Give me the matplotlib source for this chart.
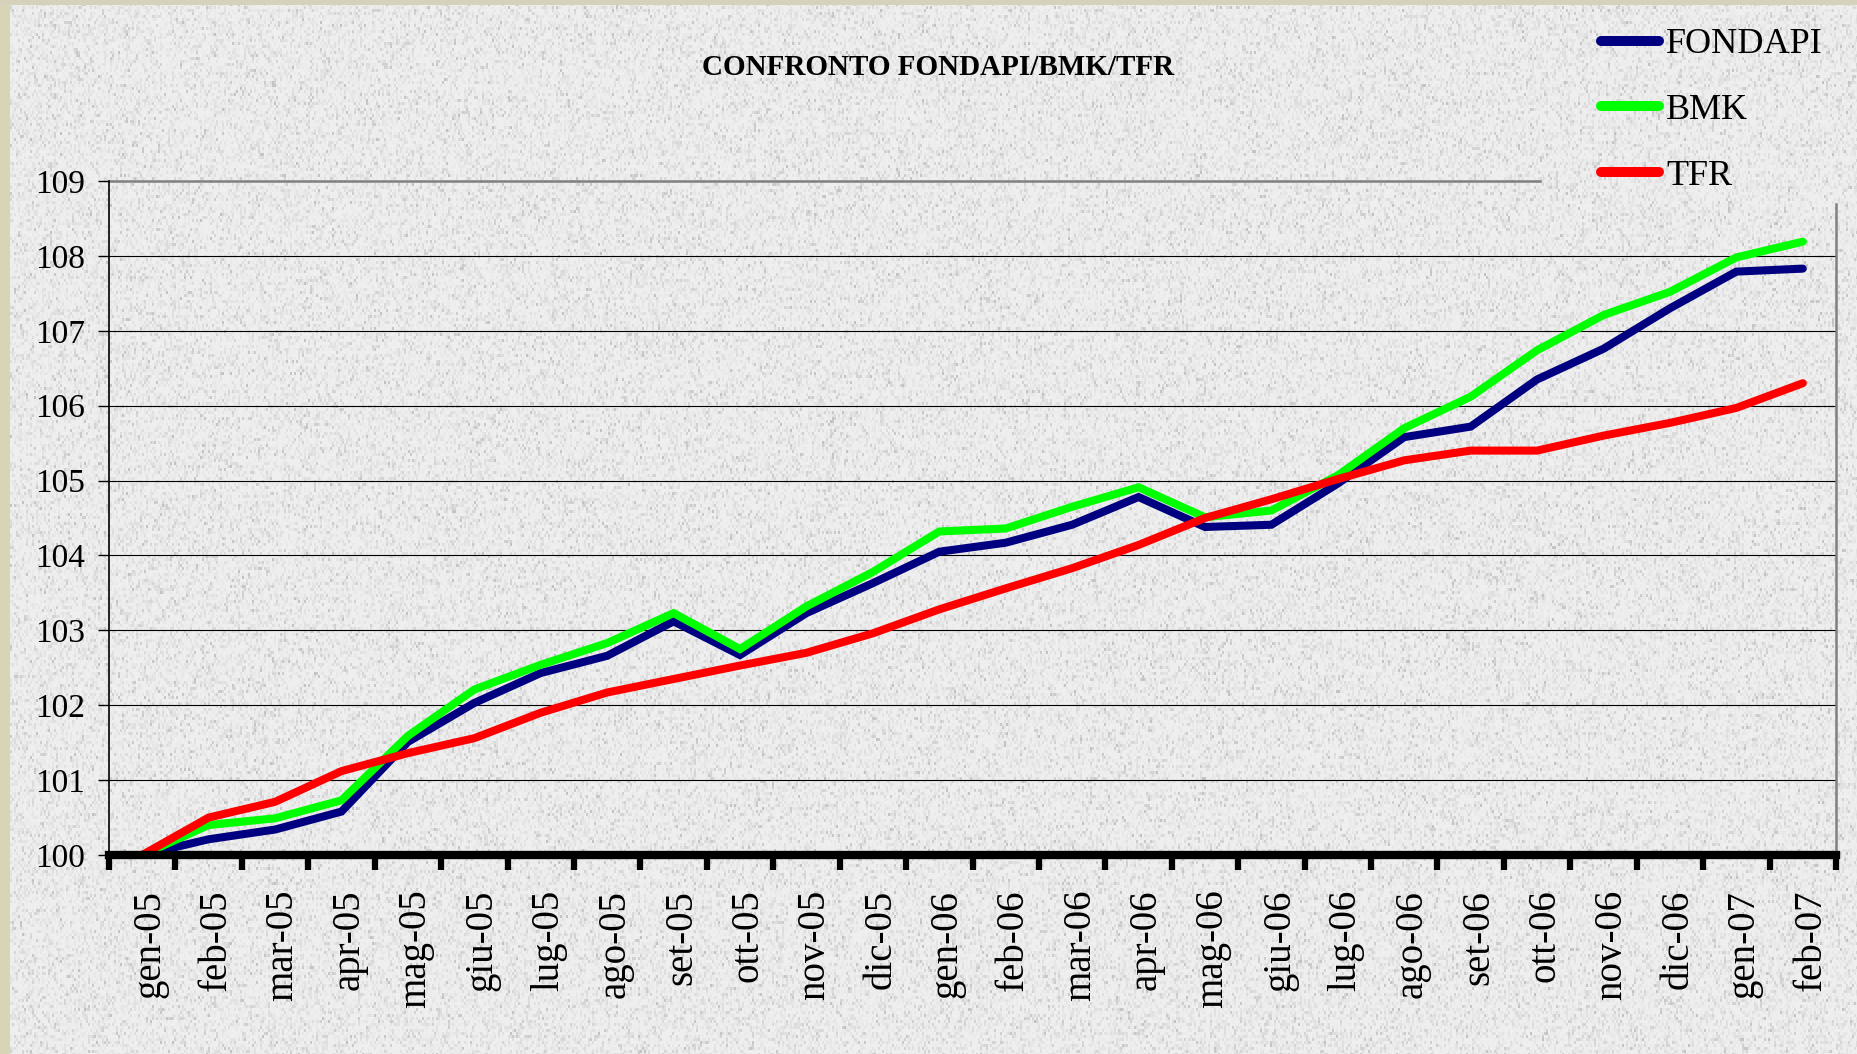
import matplotlib
matplotlib.use("Agg")
import matplotlib.pyplot as plt
import matplotlib.transforms as mtransforms
from matplotlib.lines import Line2D
from matplotlib.patches import Rectangle
import numpy as np

# Data (index values, base 100 = gen-05)
months = ["gen-05", "feb-05", "mar-05", "apr-05", "mag-05", "giu-05", "lug-05",
          "ago-05", "set-05", "ott-05", "nov-05", "dic-05", "gen-06", "feb-06",
          "mar-06", "apr-06", "mag-06", "giu-06", "lug-06", "ago-06", "set-06",
          "ott-06", "nov-06", "dic-06", "gen-07", "feb-07"]
fondapi = [100.00, 100.21, 100.34, 100.58, 101.51, 102.03, 102.43, 102.66, 103.12,
           102.67, 103.23, 103.63, 104.05, 104.17, 104.41, 104.78, 104.38, 104.41,
           104.96, 105.58, 105.72, 106.35, 106.76, 107.30, 107.79, 107.83]
bmk = [100.00, 100.40, 100.49, 100.73, 101.59, 102.21, 102.54, 102.83, 103.23,
       102.75, 103.32, 103.78, 104.32, 104.36, 104.65, 104.91, 104.51, 104.60,
       105.07, 105.70, 106.12, 106.74, 107.21, 107.52, 107.98, 108.19]
tfr = [100.00, 100.50, 100.71, 101.12, 101.36, 101.56, 101.90, 102.17, 102.35,
       102.53, 102.70, 102.96, 103.28, 103.56, 103.83, 104.14, 104.50, 104.75,
       105.02, 105.27, 105.40, 105.40, 105.60, 105.77, 105.97, 106.30]
series_names = ["FONDAPI", "BMK", "TFR"]
series_colors = ["#000080", "#00ff00", "#ff0000"]
y_ticks = list(range(100, 110))

W, H = 1857, 1054
fig = plt.figure(figsize=(W / 100, H / 100), dpi=100)
serif = "Liberation Serif"

# granite-like paper background (deterministic hash noise, decoration only)
yy, xx = np.mgrid[0:H // 3 + 1, 0:W // 2 + 1]
h = np.sin(xx * 12.9898 + yy * 78.233) * 43758.5453
h = h - np.floor(h)
h2 = np.sin(xx * 39.3468 + yy * 11.135) * 24634.6345
h2 = h2 - np.floor(h2)
tex = 0.935 - 0.08 * h ** 3 - 0.10 * (h2 > 0.93)
tex = np.repeat(np.repeat(tex, 3, axis=0), 2, axis=1)[:H, :W]
bg = fig.add_axes([0, 0, 1, 1], zorder=-5)
bg.imshow(tex, cmap="gray", vmin=0, vmax=1, aspect="auto", interpolation="nearest")
bg.set_axis_off()

# beige frame strips on top and left
fig.patches.append(Rectangle((0, 0), 10 / W, 1, transform=fig.transFigure,
                             facecolor="#d8d4b6", edgecolor="none", zorder=-4))
fig.patches.append(Rectangle((0, 1 - 5 / H), 1, 5 / H, transform=fig.transFigure,
                             facecolor="#d6d1bb", edgecolor="none", zorder=-4))

left, right, bottom, top = 109 / W, 1836 / W, 1 - 855 / H, 1 - 181 / H
ax = fig.add_axes([left, bottom, right - left, top - bottom])
ax.patch.set_alpha(0)

x = np.arange(len(months))
for vals, name, col in zip([fondapi, bmk, tfr], series_names, series_colors):
    ax.plot(x, vals, color=col, lw=5.8, solid_capstyle="round",
            solid_joinstyle="miter", label=name, zorder=3)

ax.set_xlim(-0.5, len(months) - 0.5)
ax.set_ylim(100, 109)
ax.set_yticks(y_ticks)
ax.set_yticklabels([str(v) for v in y_ticks], fontsize=24, family=serif)
ax.tick_params(axis="y", length=8, width=1, color="black", pad=9)
ax.yaxis.grid(True, color="black", lw=0.8)
ax.get_ygridlines()[-1].set_visible(False)
ax.get_ygridlines()[0].set_visible(False)

ax.set_xticks(x)
ax.set_xticklabels(months, rotation=90, fontsize=28, family=serif, va="top", ha="center")
ax.tick_params(axis="x", which="major", length=0, pad=25)
ax.set_xticks(np.arange(-0.5, len(months)), minor=True)
ax.tick_params(axis="x", which="minor", length=11, width=4.5, color="black")
offset = mtransforms.ScaledTranslation(0.08, 0, fig.dpi_scale_trans)
for lab in ax.get_xticklabels():
    lab.set_transform(lab.get_transform() + offset)

for s in ["top", "right"]:
    ax.spines[s].set_visible(False)
ax.spines["left"].set_linewidth(1.2)
ax.spines["bottom"].set_linewidth(6)
ax.spines["bottom"].set_zorder(4)
# plot-area border, partly hidden behind the legend box
ax.plot([0, (1540 - 109) / (1836 - 109)], [1, 1], transform=ax.transAxes,
        color="#808080", lw=1.8, clip_on=False)
ax.plot([1, 1], [0, (855 - 204) / (855 - 181)], transform=ax.transAxes,
        color="#808080", lw=1.8, clip_on=False)

fig.text(938 / W, 1 - 68 / H, "CONFRONTO FONDAPI/BMK/TFR", ha="center", va="center",
         fontsize=21, fontweight="bold", family=serif)

handles = [Line2D([], [], color=c, lw=7.2, solid_capstyle="round") for c in series_colors]
fig.legend(handles, series_names, loc="upper left", bbox_to_anchor=(1601 / W, 1 - 28 / H),
           frameon=False, prop={"family": serif, "size": 26}, handlelength=1.6,
           handletextpad=0.2, labelspacing=0.9, borderpad=0, borderaxespad=0)

fig.savefig("out.png", dpi=100)
